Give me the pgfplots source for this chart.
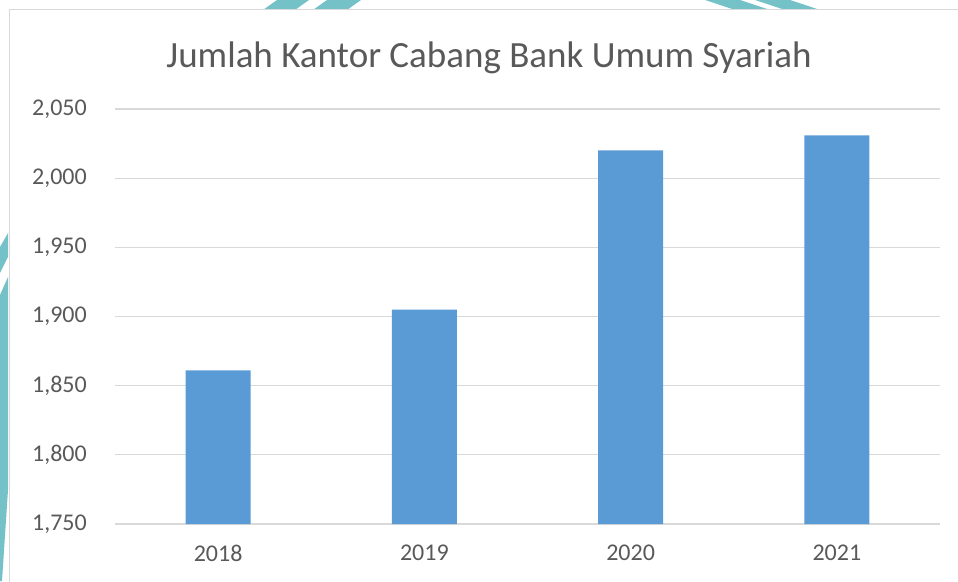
\documentclass[border=0pt]{standalone}
\usepackage{pgfplots}
\pgfplotsset{compat=1.18}
\usepackage{fontspec}
\setmainfont{Carlito}
\definecolor{barblue}{HTML}{5B9BD5}
\definecolor{txtgray}{HTML}{595959}
\definecolor{gridgray}{HTML}{D9D9D9}
\definecolor{wmteal}{HTML}{74C2C8}
\begin{document}
\begin{tikzpicture}[x=1pt,y=1pt]
\useasboundingbox (0pt,0pt) rectangle (958pt,581pt);
% watermark decoration (background page pattern)
\fill[wmteal] (263pt,571pt) -- (295pt,571pt) -- (309pt,581pt) -- (277pt,581pt) -- cycle;
\fill[wmteal] (313pt,571pt) -- (347pt,571pt) -- (361pt,581pt) -- (327pt,581pt) -- cycle;
\fill[wmteal] (735pt,571pt) -- (770pt,571pt) -- (740pt,581pt) -- (705pt,581pt) -- cycle;
\fill[wmteal] (785pt,571pt) -- (820pt,571pt) -- (790pt,581pt) -- (755pt,581pt) -- cycle;
\fill[wmteal] (0pt,334pt) -- (8pt,348pt) -- (8pt,324pt) -- (0pt,308pt) -- cycle;
\fill[wmteal] (0pt,286pt) -- (8pt,304pt) -- (8pt,91pt) -- (2pt,0pt) -- (0pt,0pt) -- cycle;
% chart border
\draw[gridgray, line width=1pt] (9pt,-5pt) -- (9pt,571pt) -- (965pt,571pt);
\begin{axis}[
  at={(115pt,57pt)}, anchor=south west,
  scale only axis, width=825pt, height=415pt,
  xmin=-0.5, xmax=3.5, ymin=1750, ymax=2050,
  ytick={1750,1800,...,2050},
  xtick={0,1,2,3}, xticklabels={2018,2019,2020,2021},
  ymajorgrids, grid style={gridgray, line width=1.3pt},
  axis line style={draw=none},
  major tick length=0pt,
  /pgf/number format/1000 sep={,},
  /pgf/number format/assume math mode=true,
  ticklabel style={font=\fontsize{24}{28}\selectfont, text=txtgray},
  yticklabel style={anchor=east, inner sep=0pt, xshift=-28pt},
  xticklabel style={anchor=north, inner sep=0pt, yshift=-21pt},
  clip=false,
]
\addplot[ybar, bar width=65pt, fill=barblue, draw=none] coordinates {(0,1861) (1,1905) (2,2020) (3,2031)};
\end{axis}
\node[text=txtgray, font=\fontsize{37}{44}\selectfont] at (489pt,523pt) {Jumlah Kantor Cabang Bank Umum Syariah};
\end{tikzpicture}
\end{document}
